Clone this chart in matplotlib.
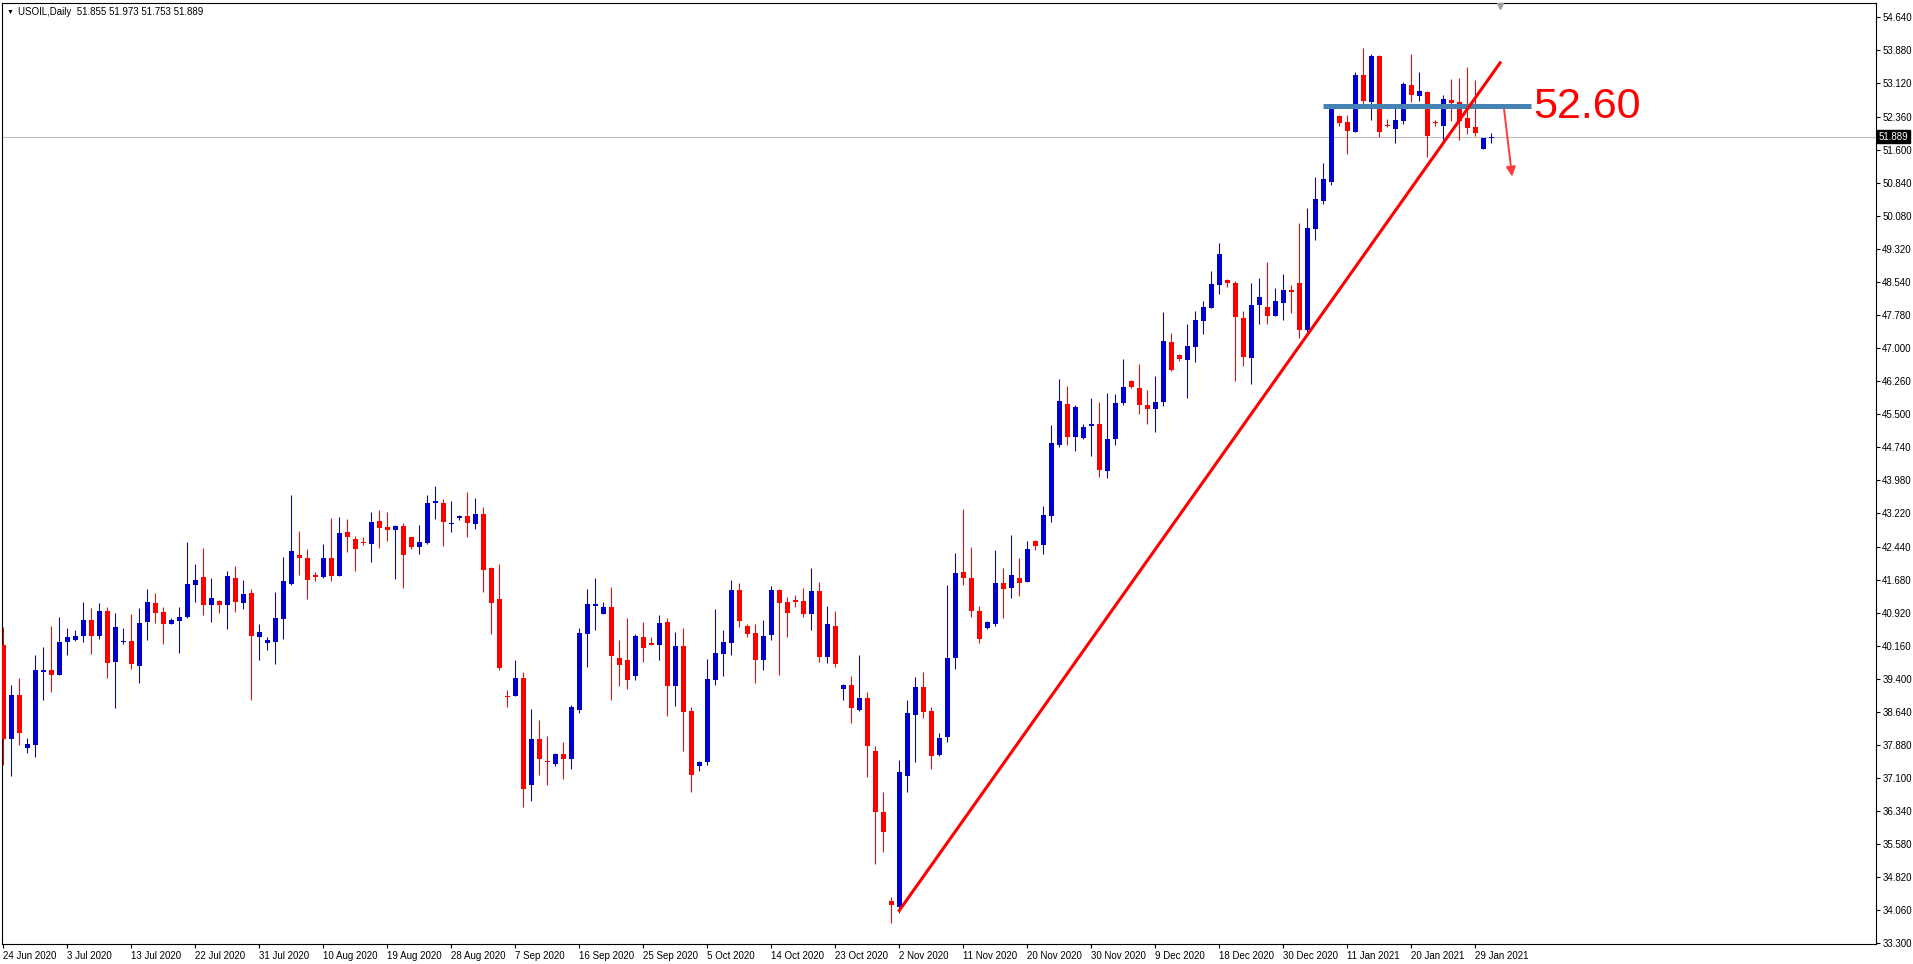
import numpy as np
import matplotlib.pyplot as plt
from matplotlib.transforms import blended_transform_factory

# USOIL daily candles, 24 Jun 2020 .. 1 Feb 2021 (one bar per trading day)
opens = [40.18, 38.00, 39.03, 37.81, 37.88, 39.55, 39.59, 39.49, 40.25, 40.30,
         40.39, 40.76, 40.39, 40.97, 39.79, 40.25, 40.28, 39.70, 40.71, 41.15,
         40.94, 40.67, 40.74, 40.83, 41.57, 41.75, 41.10, 41.20, 41.10, 41.73,
         41.15, 41.38, 40.37, 40.23, 40.25, 40.78, 41.59, 42.26, 42.19, 41.80,
         41.75, 42.19, 41.77, 42.79, 42.62, 42.56, 42.51, 43.04, 42.90, 42.83,
         42.92, 42.67, 42.44, 42.53, 43.45, 43.45, 42.97, 43.11, 43.15, 42.97,
         43.20, 41.96, 41.24, 39.00, 39.01, 39.42, 36.96, 38.02, 37.49, 37.44,
         37.67, 37.54, 38.69, 40.44, 41.08, 40.88, 41.06, 39.88, 39.84, 39.47,
         40.37, 40.23, 40.18, 40.71, 39.24, 40.16, 38.66, 37.40, 37.47, 39.38,
         39.98, 40.23, 41.45, 40.62, 40.46, 39.82, 40.41, 41.45, 41.17, 41.22,
         41.20, 40.88, 41.43, 39.91, 40.62, 39.16, 39.25, 38.69, 38.95, 37.74,
         36.34, 34.27, 34.15, 37.17, 38.56, 39.21, 38.65, 37.64, 38.05, 39.87,
         41.87, 41.73, 40.95, 40.57, 40.67, 41.60, 41.48, 41.72, 41.64, 42.58,
         42.47, 43.16, 44.78, 45.74, 44.96, 44.94, 45.22, 45.26, 44.18, 44.92,
         45.75, 46.25, 46.10, 45.71, 45.62, 45.78, 47.16, 46.86, 46.75, 47.05,
         47.65, 47.95, 48.48, 48.59, 48.52, 47.71, 46.79, 48.01, 47.97, 47.76,
         48.06, 48.36, 48.52, 47.44, 49.76, 50.41, 50.85, 52.37, 52.23, 52.00,
         53.31, 52.69, 53.75, 52.16, 52.07, 52.25, 53.08, 52.83, 52.92, 52.23,
         52.14, 52.74, 52.69, 52.32, 52.11, 51.61, 51.855]
highs = [40.59, 39.26, 39.42, 38.04, 39.95, 40.14, 40.62, 40.83, 40.58, 40.53,
         41.17, 41.04, 41.15, 41.06, 40.92, 40.58, 40.90, 41.04, 41.47, 41.38,
         41.06, 40.81, 41.06, 42.56, 42.05, 42.42, 41.73, 41.22, 41.89, 42.00,
         41.68, 41.47, 40.67, 40.35, 41.40, 42.21, 43.64, 42.81, 42.39, 41.87,
         42.51, 43.11, 43.13, 43.09, 42.69, 42.67, 43.25, 43.29, 43.25, 42.95,
         42.99, 42.67, 42.95, 43.64, 43.85, 43.55, 43.50, 43.18, 43.71, 43.57,
         43.36, 41.98, 42.05, 39.15, 39.82, 39.56, 38.71, 38.46, 38.07, 37.70,
         37.95, 38.80, 40.57, 41.47, 41.73, 41.17, 41.52, 40.30, 40.81, 40.44,
         40.71, 40.35, 40.87, 40.81, 40.48, 40.57, 38.76, 37.51, 39.86, 41.01,
         40.53, 41.68, 41.61, 40.65, 40.65, 40.76, 41.54, 41.47, 41.29, 41.34,
         41.48, 41.94, 41.64, 41.08, 40.97, 39.29, 39.47, 39.94, 39.10, 37.86,
         36.79, 34.37, 37.52, 38.92, 39.44, 39.56, 38.74, 38.16, 41.57, 42.30,
         43.30, 42.43, 41.08, 40.73, 42.36, 41.94, 42.70, 42.19, 42.58, 42.60,
         43.39, 45.25, 46.31, 46.15, 45.71, 45.27, 45.87, 45.78, 45.99, 45.95,
         46.77, 46.29, 46.66, 46.05, 46.38, 47.85, 47.37, 46.89, 47.58, 47.88,
         48.11, 48.80, 49.44, 48.60, 48.57, 47.88, 48.52, 48.64, 49.00, 48.41,
         48.73, 48.48, 49.90, 50.25, 50.96, 51.28, 52.64, 52.38, 52.39, 53.38,
         53.93, 53.80, 53.77, 52.30, 52.57, 53.15, 53.80, 53.38, 52.94, 52.27,
         52.85, 53.22, 53.24, 53.50, 53.20, 51.86, 51.973]
lows = [37.42, 37.17, 37.88, 37.70, 37.60, 38.92, 39.10, 39.49, 39.95, 40.28,
        40.25, 39.98, 40.32, 39.42, 38.73, 40.21, 39.63, 39.31, 40.30, 40.69,
        40.21, 40.67, 40.00, 40.81, 41.17, 40.87, 40.71, 40.92, 40.55, 40.94,
        41.01, 38.92, 39.82, 40.07, 39.75, 40.32, 41.57, 41.80, 41.24, 41.66,
        41.73, 41.66, 41.77, 42.33, 41.89, 42.49, 42.10, 42.42, 42.58, 41.70,
        41.50, 42.40, 42.28, 42.51, 43.09, 42.46, 42.79, 43.06, 42.67, 42.86,
        41.40, 40.44, 39.59, 38.76, 39.01, 36.45, 36.59, 37.19, 36.94, 37.40,
        37.10, 37.33, 38.60, 39.68, 40.53, 40.88, 38.92, 39.24, 39.17, 39.37,
        39.79, 40.17, 39.84, 38.53, 38.78, 37.74, 36.78, 37.28, 37.42, 39.26,
        39.47, 39.95, 40.60, 40.37, 39.31, 39.61, 40.30, 39.49, 40.35, 41.06,
        40.82, 40.52, 39.79, 39.77, 39.66, 38.90, 38.39, 38.65, 37.13, 35.12,
        35.40, 33.78, 34.01, 36.79, 37.48, 38.49, 37.33, 37.62, 37.95, 39.62,
        41.57, 40.83, 40.23, 40.55, 40.61, 40.81, 41.27, 41.30, 41.64, 42.36,
        42.28, 43.00, 44.74, 44.79, 44.64, 44.93, 44.53, 44.04, 44.02, 44.78,
        45.71, 46.10, 45.49, 45.27, 45.09, 45.69, 46.49, 46.72, 45.87, 46.70,
        47.35, 47.95, 48.27, 48.43, 46.26, 46.61, 46.20, 47.58, 47.58, 47.76,
        47.67, 47.83, 47.25, 47.39, 49.51, 50.34, 50.78, 52.14, 51.49, 51.99,
        52.57, 52.28, 51.88, 52.11, 51.75, 52.18, 52.69, 52.71, 51.42, 52.14,
        51.79, 52.25, 51.81, 51.95, 51.91, 51.61, 51.753]
closes = [38.00, 39.03, 38.15, 37.90, 39.59, 39.59, 39.49, 40.25, 40.35, 40.39,
          40.76, 40.39, 40.97, 39.77, 40.60, 40.28, 39.75, 40.69, 41.17, 40.92,
          40.67, 40.76, 40.83, 41.59, 41.68, 41.10, 41.27, 41.10, 41.77, 41.17,
          41.36, 40.39, 40.48, 40.30, 40.81, 41.66, 42.35, 42.19, 41.68, 41.75,
          42.19, 41.77, 42.76, 42.67, 42.39, 42.53, 43.02, 42.88, 42.83, 42.92,
          42.26, 42.44, 42.56, 43.45, 43.50, 43.02, 42.99, 43.15, 42.99, 43.20,
          41.91, 41.15, 39.65, 38.98, 39.42, 36.87, 38.02, 37.54, 37.47, 37.67,
          37.56, 38.76, 40.46, 41.13, 41.13, 41.06, 39.93, 39.72, 39.38, 40.39,
          40.11, 40.18, 40.69, 39.24, 40.16, 38.64, 37.19, 37.49, 39.40, 40.00,
          40.25, 41.45, 40.74, 40.44, 39.82, 40.39, 41.45, 41.15, 40.92, 41.17,
          40.90, 41.43, 39.91, 40.65, 39.75, 39.25, 38.72, 38.96, 37.85, 36.32,
          35.86, 34.18, 37.26, 38.60, 39.21, 38.63, 37.62, 38.03, 39.88, 41.84,
          41.73, 40.95, 40.31, 40.70, 41.60, 41.46, 41.78, 41.61, 42.40, 42.45,
          43.18, 44.84, 45.80, 44.98, 45.65, 45.21, 45.26, 44.20, 44.93, 45.75,
          46.13, 46.11, 45.70, 45.61, 45.77, 47.18, 46.52, 46.77, 47.07, 47.67,
          47.97, 48.50, 49.19, 48.52, 47.74, 46.82, 48.01, 48.20, 47.76, 48.11,
          48.36, 48.31, 47.44, 49.79, 50.46, 50.92, 52.55, 52.21, 52.02, 53.31,
          52.71, 53.75, 52.00, 52.14, 52.27, 53.10, 52.85, 52.94, 51.91, 52.21,
          52.76, 52.67, 52.25, 52.09, 51.98, 51.86, 51.889]

# date labels, one every 8 bars
date_labels = ['24 Jun 2020', '3 Jul 2020', '13 Jul 2020', '22 Jul 2020', '31 Jul 2020',
               '10 Aug 2020', '19 Aug 2020', '28 Aug 2020', '7 Sep 2020', '16 Sep 2020',
               '25 Sep 2020', '5 Oct 2020', '14 Oct 2020', '23 Oct 2020', '2 Nov 2020',
               '11 Nov 2020', '20 Nov 2020', '30 Nov 2020', '9 Dec 2020', '18 Dec 2020',
               '30 Dec 2020', '11 Jan 2021', '20 Jan 2021', '29 Jan 2021']
price_labels = ['54.640', '53.880', '53.120', '52.360', '51.600', '50.840', '50.080',
                '49.320', '48.540', '47.780', '47.000', '46.260', '45.500', '44.740',
                '43.980', '43.220', '42.440', '41.680', '40.920', '40.160', '39.400',
                '38.640', '37.880', '37.100', '36.340', '35.580', '34.820', '34.060',
                '33.300']

last_price = 51.889
title = 'USOIL,Daily  51.855 51.973 51.753 51.889'

# hand drawn objects (bar index, price)
resistance = 52.60
res_bars = [165, 191]
trend_bars = [112, 187.1]
trend_prices = [34.06, 53.59]
arrow_bars = [187.6, 188.6]
arrow_prices = [52.52, 50.97]

plt.rcParams['font.family'] = ['Liberation Sans', 'DejaVu Sans']

fig = plt.figure(figsize=(19.13, 9.64), dpi=100)
ax = fig.add_axes([0.0012, 0.02106, 0.97946, 0.97552])

x = np.arange(len(opens))
o = np.array(opens)
c = np.array(closes)
colors = np.where(c >= o, '#0000CD', '#FF0000')

# candles
ax.axhline(last_price, color='#C0C0C0', lw=0.8, zorder=0)
ax.vlines(x, lows, highs, colors=colors, lw=0.75, zorder=2)
ax.bar(x, np.maximum(np.abs(c - o), 0.025), 0.62, bottom=np.minimum(o, c),
       color=colors, linewidth=0, zorder=3)

# drawings
ax.plot(res_bars, [resistance, resistance], color='#4682B4', lw=3.6,
        solid_capstyle='butt', zorder=4)
ax.plot(trend_bars, trend_prices, color='#FF0000', lw=2.2, zorder=5)
ax.annotate('', xy=(arrow_bars[1], arrow_prices[1]), xytext=(arrow_bars[0], arrow_prices[0]),
            arrowprops=dict(arrowstyle='-|>', color='#FF3a3a', lw=1.4,
                            mutation_scale=14, shrinkA=0, shrinkB=0), zorder=5)
ax.text(191.3, 52.31, '%.2f' % resistance, color='#FF0000', fontsize=31,
        ha='left', va='baseline', zorder=6)

ax.set_xlim(-0.125, 234.09)
ax.set_ylim(33.295, 54.962)

ax.yaxis.tick_right()
ax.set_yticks(np.linspace(54.64, 33.30, len(price_labels)))
ax.set_yticklabels(price_labels)
ax.tick_params(axis='y', length=3, width=0.8, pad=1.5, labelsize=7, colors='black')
ax.set_xticks(np.arange(len(date_labels)) * 8)
ax.set_xticklabels(date_labels, ha='left')
ax.tick_params(axis='x', length=3, width=0.8, pad=2, labelsize=7, colors='black')
for s in ax.spines.values():
    s.set_linewidth(0.8)
    s.set_color('black')

# current price tag
trans = blended_transform_factory(ax.transAxes, ax.transData)
ax.text(1.0016, last_price, '%.3f' % last_price, transform=trans, ha='left', va='center',
        color='white', fontsize=7, clip_on=False,
        bbox=dict(boxstyle='square,pad=0.18', fc='black', ec='black'))

# chart shift marker
ax.plot(187.1, 54.90, marker='v', color='#A0A0A0', ms=4, zorder=6, clip_on=False)

fig.text(7 / 1913, 1 - 12 / 964, '\u25bc', fontsize=5, va='center')
fig.text(18 / 1913, 1 - 12 / 964, title, fontsize=7, va='center')

fig.savefig('out.png', dpi=100)
